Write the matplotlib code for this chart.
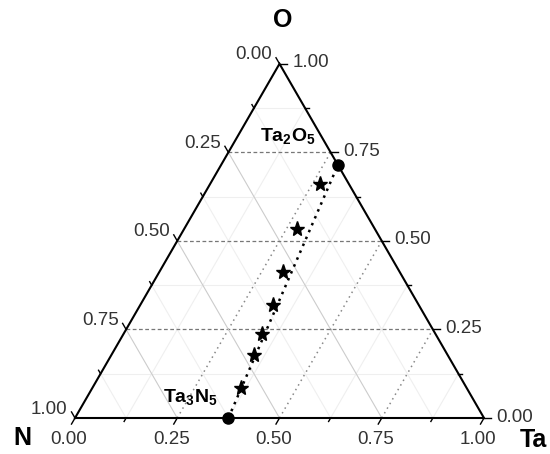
import numpy as np
import matplotlib
matplotlib.use('Agg')
import matplotlib.pyplot as plt

plt.rcParams['font.family'] = ['Liberation Sans', 'DejaVu Sans']
plt.rcParams['mathtext.fontset'] = 'custom'
plt.rcParams['mathtext.rm'] = 'Liberation Sans'
plt.rcParams['mathtext.bf'] = 'Liberation Sans:bold'

# compositions (fractions of Ta and O, N is the rest)
end_names = [r'$\mathbf{Ta_3N_5}$', r'$\mathbf{Ta_2O_5}$']
end_ta = [3 / 8, 2 / 7]
end_o = [0.0, 5 / 7]

star_ta = [0.269, 0.276, 0.303, 0.324, 0.338, 0.349, 0.364]
star_o = [0.660, 0.535, 0.411, 0.320, 0.238, 0.178, 0.085]

tick_vals = [0.0, 0.25, 0.5, 0.75, 1.0]
tick_labels = ['0.00', '0.25', '0.50', '0.75', '1.00']
minor_vals = [0.125, 0.375, 0.625, 0.875]

H = np.sqrt(3) / 2
PX = 1 / 409.0  # one pixel in data units


def tern(ta, o):
    ta = np.asarray(ta, dtype=float)
    o = np.asarray(o, dtype=float)
    return ta + o / 2, o * H


fig = plt.figure(figsize=(5.5, 4.54), dpi=100)
ax = fig.add_axes([0, 0, 1, 1])
ax.set_xlim(-75 * PX, 475 * PX)
ax.set_ylim(-36 * PX, 418 * PX)
ax.axis('off')

# minor grid, very faint
for v in minor_vals:
    x, y = tern([0, 1 - v], [v, v])
    ax.plot(x, y, color='#efefef', lw=0.8, zorder=1)
    x, y = tern([v, v], [0, 1 - v])
    ax.plot(x, y, color='#efefef', lw=0.8, zorder=1)
    x, y = tern([0, 1 - v], [1 - v, 0])
    ax.plot(x, y, color='#efefef', lw=0.8, zorder=1)

# major grid
for v in tick_vals[1:-1]:
    # constant O: dashed
    x, y = tern([0, 1 - v], [v, v])
    ax.plot(x, y, color='#777777', lw=0.9, ls=(0, (3, 2)), zorder=2)
    # constant Ta: dotted
    x, y = tern([v, v], [0, 1 - v])
    ax.plot(x, y, color='#888888', lw=1.1, ls=(0, (1, 2.5)), zorder=2)
    # constant N: light solid
    x, y = tern([0, 1 - v], [1 - v, 0])
    ax.plot(x, y, color='#cccccc', lw=0.8, zorder=2)

# triangle
x, y = tern([0, 1, 0, 0], [0, 0, 1, 0])
ax.plot(x, y, color='black', lw=1.5, zorder=5, solid_joinstyle='miter')

# ticks on the three edges
all_vals = sorted(tick_vals + minor_vals)
for v in all_vals:
    major = v in tick_vals
    L = (7 if major else 4) * PX
    # bottom (Ta): down-left
    bx, by = tern(v, 0)
    ax.plot([bx, bx - 0.5 * L], [by, by - H * L], color='black', lw=1.0, zorder=5)
    # right (O): to the right
    rx, ry = tern(1 - v, v)
    ax.plot([rx, rx + L], [ry, ry], color='black', lw=1.0, zorder=5)
    # left (N): up-left
    lx, ly = tern(0, 1 - v)
    ax.plot([lx, lx - 0.5 * L], [ly, ly + H * L], color='black', lw=1.0, zorder=5)

for v, lab in zip(tick_vals, tick_labels):
    bx, by = tern(v, 0)
    ax.text(bx - 6 * PX, by - 21 * PX, lab, ha='center', va='center',
            fontsize=13.5, color='#333333')
    rx, ry = tern(1 - v, v)
    ax.text(rx + 31 * PX, ry + 1 * PX, lab, ha='center', va='center',
            fontsize=13.5, color='#333333')
    lx, ly = tern(0, 1 - v)
    ax.text(lx - 26 * PX, ly + 9 * PX, lab, ha='center', va='center',
            fontsize=13.5, color='#333333')

# corner labels
ox, oy = tern(0, 1)
ax.text(ox + 3 * PX, oy + 44 * PX, 'O', ha='center', va='center',
        fontsize=18, fontweight='bold')
ax.text(-53 * PX, -20 * PX, 'N', ha='center', va='center',
        fontsize=18, fontweight='bold')
ax.text(1 + 49 * PX, -22 * PX, 'Ta', ha='center', va='center',
        fontsize=18, fontweight='bold')

# tie line and data
x, y = tern(end_ta, end_o)
ax.plot(x, y, color='black', lw=1.8, ls=(0, (1, 2)), zorder=6)
ax.plot(x, y, 'o', color='black', ms=8, zorder=7, clip_on=False)

sx, sy = tern(star_ta, star_o)
ax.plot(sx, sy, '*', color='black', ms=11, zorder=7)

ax.text(x[0] - 38 * PX, y[0] + 21 * PX, end_names[0],
        ha='center', va='center', fontsize=14)
ax.text(x[1] - 50 * PX, y[1] + 29 * PX, end_names[1],
        ha='center', va='center', fontsize=14)

fig.savefig('out.png', dpi=100, facecolor='white')
